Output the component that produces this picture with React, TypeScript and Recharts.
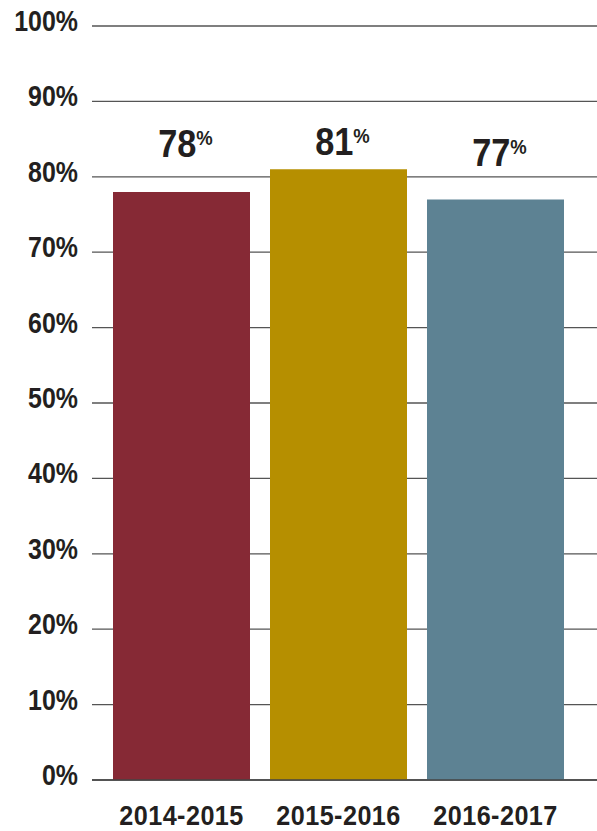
import { BarChart, Bar, XAxis, YAxis, CartesianGrid, Cell, LabelList } from "recharts";

const SEASONS = ["2014-2015", "2015-2016", "2016-2017"];
const RATES = [78, 81, 77];
const Y_TICKS = [0, 10, 20, 30, 40, 50, 60, 70, 80, 90, 100];

const BAR_COLORS = ["#862935", "#b68f00", "#5d8293"];
// gap between bar top and the value label baseline
const LABEL_LIFT = [35, 14, 33];

const FONT = "'Liberation Sans', Arial, sans-serif";
const INK = "#231f20";

const data = SEASONS.map((season, i) => ({ season, rate: RATES[i] }));

// squeeze the regular face horizontally to get a condensed look
function YTick(props: any) {
  const { x, y, payload } = props;
  return (
    <g transform={`translate(${x},${y}) scale(0.86,1)`}>
      <text
        x={0}
        y={0}
        dy={5}
        textAnchor="end"
        fill={INK}
        fontFamily={FONT}
        fontWeight="bold"
        fontSize={29}
      >
        {`${payload.value}%`}
      </text>
    </g>
  );
}

function XTick(props: any) {
  const { x, y, payload } = props;
  return (
    <g transform={`translate(${x},${y}) scale(0.9,1)`}>
      <text
        x={0}
        y={0}
        dy={43}
        textAnchor="middle"
        fill={INK}
        fontFamily={FONT}
        fontWeight="bold"
        fontSize={28}
        letterSpacing={0.5}
      >
        {payload.value}
      </text>
    </g>
  );
}

function ValueLabel(props: any) {
  const { x, y, width, value, index } = props;
  const base = y - LABEL_LIFT[index];
  return (
    <g transform={`translate(${x + width / 2 + 4},${base}) scale(0.88,1)`}>
      <text x={0} y={0} textAnchor="middle" fill={INK} fontFamily={FONT} fontWeight="bold">
        <tspan fontSize={39}>{value}</tspan>
        <tspan fontSize={21} dy={-12}>%</tspan>
      </text>
    </g>
  );
}

export default function App() {
  return (
    <div style={{ position: "absolute", left: 0, top: 0, background: "#fff" }}>
      <BarChart
        width={597}
        height={831}
        data={data}
        margin={{ top: 26, right: 0, bottom: 0, left: 0 }}
        barCategoryGap={10}
      >
        <CartesianGrid vertical={false} stroke="#555" strokeWidth={1.3} />
        <XAxis
          dataKey="season"
          height={51}
          padding={{ left: 11, right: 23 }}
          tickLine={false}
          tickSize={0}
          axisLine={{ stroke: "#444", strokeWidth: 1.5 }}
          tick={<XTick />}
          interval={0}
        />
        <YAxis
          width={92}
          domain={[0, 100]}
          ticks={Y_TICKS}
          tickLine={false}
          tickSize={0}
          tickMargin={14}
          axisLine={false}
          tick={<YTick />}
        />
        <Bar dataKey="rate" isAnimationActive={false}>
          {data.map((d, i) => (
            <Cell key={d.season} fill={BAR_COLORS[i]} />
          ))}
          <LabelList dataKey="rate" content={<ValueLabel />} />
        </Bar>
      </BarChart>
    </div>
  );
}
